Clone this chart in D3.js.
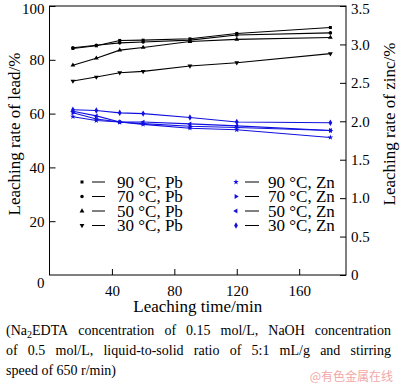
<!DOCTYPE html>
<html><head><meta charset="utf-8">
<script src="https://cdn.jsdelivr.net/npm/d3@7/dist/d3.min.js"></script>
<style>body{margin:0;background:#fff}svg{display:block}text{font-family:"Liberation Serif","Times New Roman",serif;fill:#000}</style>
</head><body><svg id="c" width="400" height="385"></svg>
<script>
const times = [15, 30, 45, 60, 90, 120, 180];
const pb90 = [84.2, 85.2, 87.2, 87.3, 87.8, 89.8, 92.0];
const pb70 = [84.5, 85.4, 86.3, 86.6, 87.3, 89.2, 90.0];
const pb50 = [78.0, 80.6, 83.6, 84.6, 86.8, 87.6, 88.3];
const pb30 = [72.1, 73.6, 75.2, 75.7, 77.7, 78.9, 82.3];
const zn90 = [2.06, 2.01, 1.99, 1.96, 1.91, 1.89, 1.79];
const zn70 = [2.11, 2.03, 1.99, 1.97, 1.935, 1.92, 1.88];
const zn50 = [2.13, 2.07, 1.99, 1.99, 1.966, 1.94, 1.88];
const zn30 = [2.15, 2.14, 2.11, 2.10, 2.05, 1.99, 1.98];
const xTicks = [40, 80, 120, 160];
const yLeftTicks = [20, 40, 60, 80, 100];
const yRightTicks = [0, 0.5, 1.0, 1.5, 2.0, 2.5, 3.0, 3.5];
const pbLabels = ["90 °C, Pb", "70 °C, Pb", "50 °C, Pb", "30 °C, Pb"];
const znLabels = ["90 °C, Zn", "70 °C, Zn", "50 °C, Zn", "30 °C, Zn"];
const captionLines = [
  ["(Na", "2", "EDTA concentration of 0.15 mol/L, NaOH concentration"],
  "of 0.5 mol/L, liquid-to-solid ratio of 5:1 mL/g and stirring",
  "speed of 650 r/min)"
];

const svg = d3.select("#c");
const L = 49.5, R = 346, T = 6, B = 275;
const x = d3.scaleLinear().domain([0, 190]).range([L, R]);
const yL = d3.scaleLinear().domain([0, 100]).range([B, T]);
const yR = d3.scaleLinear().domain([0, 3.5]).range([B, T]);

svg.append("rect").attr("x", L).attr("y", T).attr("width", R - L).attr("height", B - T)
  .attr("fill", "none").attr("stroke", "#000").attr("stroke-width", 1);

const ax = svg.append("g").attr("transform", `translate(0,${B})`)
  .call(d3.axisBottom(x).tickValues(xTicks).tickSizeInner(-6).tickSizeOuter(0).tickPadding(10).tickFormat(d3.format("d")));
const ayl = svg.append("g").attr("transform", `translate(${L},0)`)
  .call(d3.axisLeft(yL).tickValues(yLeftTicks).tickSizeInner(-6).tickSizeOuter(0).tickPadding(5).tickFormat(d3.format("d")));
const ayr = svg.append("g").attr("transform", `translate(${R},0)`)
  .call(d3.axisRight(yR).tickValues(yRightTicks).tickSizeInner(-6).tickSizeOuter(0).tickPadding(5)
    .tickFormat(d => d === 0 ? "0" : d3.format(".1f")(d)));
[ax, ayl, ayr].forEach(g => {
  g.select(".domain").remove();
  g.selectAll("text").style("font-size", "15px").style("font-family", '"Liberation Serif", serif');
  g.selectAll("line").attr("stroke", "#000");
});
ayl.selectAll(".tick text").filter(d => d === 100).attr("dy", "0.5em");
ayr.selectAll(".tick text").filter(d => d === 3.5).attr("dy", "0.5em");
svg.append("text").attr("x", L - 5).attr("y", 288).attr("text-anchor", "end").style("font-size", "15px").text("0");

svg.append("text").attr("x", (L + R) / 2).attr("y", 312).attr("text-anchor", "middle")
  .style("font-size", "17px").text("Leaching time/min");
svg.append("text").attr("transform", `translate(20,134) rotate(-90)`).attr("text-anchor", "middle")
  .style("font-size", "17px").text("Leaching rate of lead/%");
svg.append("text").attr("transform", `translate(395,124) rotate(-90)`).attr("text-anchor", "middle")
  .style("font-size", "17px").text("Leaching rate of zinc/%");

const sq = d3.symbol().type(d3.symbolSquare).size(9);
const ci = d3.symbol().type(d3.symbolCircle).size(10);
const triUp = d3.symbol().type(d3.symbolTriangle).size(10);
const star = d3.symbol().type(d3.symbolStar).size(10);
function markerPath(kind) {
  if (kind === "sq") return sq();
  if (kind === "ci") return ci();
  if (kind === "up" || kind === "down" || kind === "right" || kind === "left") return triUp();
  if (kind === "star") return star();
  if (kind === "dia") return d3.symbol().type(d3.symbolDiamond).size(12)();
}
const rot = {up: 0, down: 180, right: 90, left: -90};

const series = [
  {v: pb90, y: yL, c: "#000", m: "sq"},
  {v: pb70, y: yL, c: "#000", m: "ci"},
  {v: pb50, y: yL, c: "#000", m: "up"},
  {v: pb30, y: yL, c: "#000", m: "down"},
  {v: zn90, y: yR, c: "#1010e0", m: "star"},
  {v: zn70, y: yR, c: "#1010e0", m: "right"},
  {v: zn50, y: yR, c: "#1010e0", m: "left"},
  {v: zn30, y: yR, c: "#1010e0", m: "dia"}
];
series.forEach(s => {
  const line = d3.line().x((d, i) => x(times[i])).y(d => s.y(d));
  svg.append("path").datum(s.v).attr("d", line).attr("fill", "none").attr("stroke", s.c).attr("stroke-width", 1.1);
  svg.selectAll(null).data(s.v).enter().append("path")
    .attr("d", markerPath(s.m))
    .attr("transform", (d, i) => `translate(${x(times[i])},${s.y(d)}) rotate(${rot[s.m] || 0})`)
    .attr("fill", s.c);
});

const rowsY = [182, 196.5, 211, 225.5];
series.forEach((s, i) => {
  const col = i < 4 ? 0 : 1;
  const r = i % 4;
  const mx = col === 0 ? 82 : 236;
  const lx0 = col === 0 ? 92 : 245, lx1 = col === 0 ? 105 : 259, tx = col === 0 ? 117 : 268;
  const yy = rowsY[r];
  svg.append("path").attr("d", markerPath(s.m)).attr("transform", `translate(${mx},${yy}) rotate(${rot[s.m] || 0})`).attr("fill", s.c);
  svg.append("line").attr("x1", lx0).attr("x2", lx1).attr("y1", yy).attr("y2", yy).attr("stroke", "#000").attr("stroke-width", 1);
  svg.append("text").attr("x", tx).attr("y", yy + 5.5).style("font-size", "17px").text((col === 0 ? pbLabels : znLabels)[r]);
});

function justify(words, x0, x1, yb) {
  const g = svg.append("g");
  const nodes = words.map(w => {
    const t = g.append("text").attr("y", yb).style("font-size", "14px");
    if (Array.isArray(w)) {
      t.append("tspan").text(w[0]);
      t.append("tspan").attr("dy", 3).style("font-size", "10px").text(w[1]);
      t.append("tspan").attr("dy", -3).text(w[2]);
    } else t.text(w);
    return t;
  });
  const widths = nodes.map(n => n.node().getComputedTextLength());
  const total = d3.sum(widths);
  const gap = (x1 - x0 - total) / (words.length - 1);
  let cx = x0;
  nodes.forEach((n, i) => { n.attr("x", cx); cx += widths[i] + gap; });
}
const l1 = captionLines[0][2].split(" ");
const first = [captionLines[0][0], captionLines[0][1], l1[0]];
justify([first].concat(l1.slice(1)), 6, 391, 335);
justify(captionLines[1].split(" "), 6, 391, 355);
svg.append("text").attr("x", 6).attr("y", 375).style("font-size", "14px").text(captionLines[2]);

svg.append("text").attr("x", 393).attr("y", 381).attr("text-anchor", "end")
  .style("font-family", '"Noto Sans CJK SC", sans-serif').style("font-size", "12px").style("fill", "#f2a7a7").text("@有色金属在线");
</script></body></html>
